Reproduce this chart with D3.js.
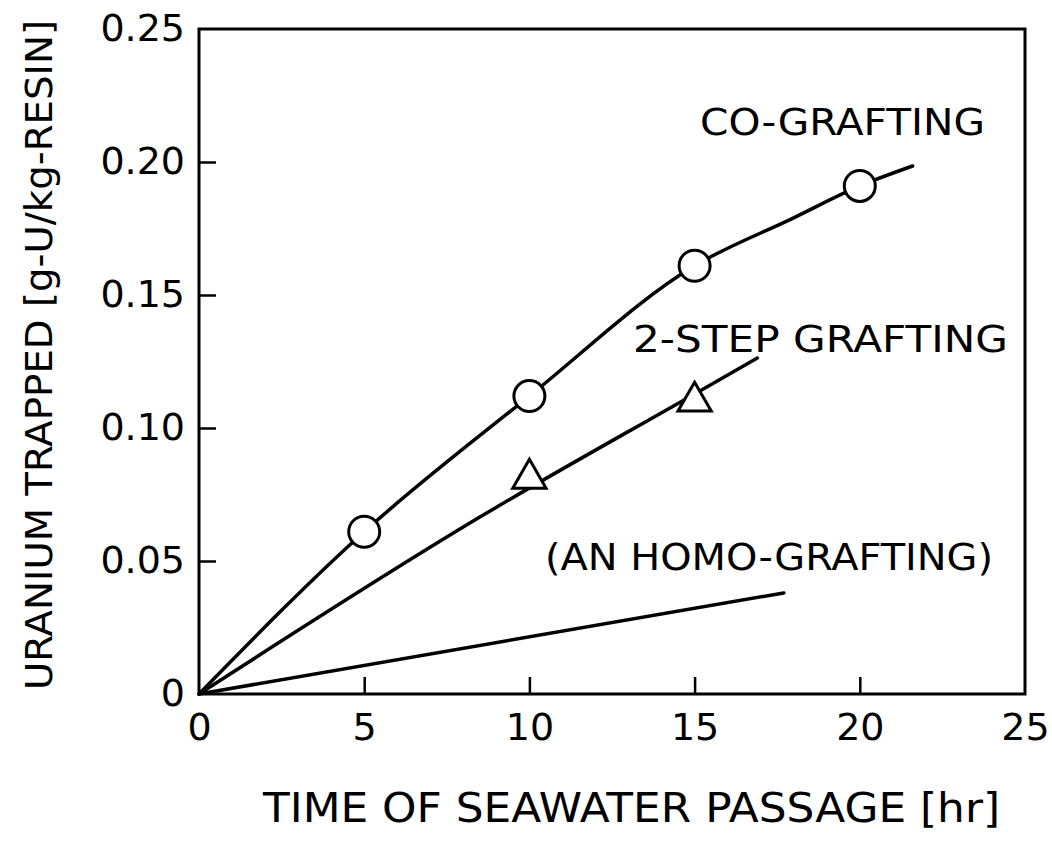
<!DOCTYPE html>
<html>
<head>
<meta charset="utf-8">
<script src="https://cdn.jsdelivr.net/npm/d3@7"></script>
<style>
  html, body { margin: 0; padding: 0; background: #fff; }
  svg { display: block; }
  text { font-family: "DejaVu Sans", sans-serif; fill: #000; }
</style>
</head>
<body>
<svg id="chart" width="1052" height="850"></svg>
<script>
// ---- data ----
const xTicks = [0, 5, 10, 15, 20, 25];
const yTicks = [0, 0.05, 0.10, 0.15, 0.20, 0.25];
const yTickLabels = ["0", "0.05", "0.10", "0.15", "0.20", "0.25"];

const coTime = [5, 10, 15, 20];
const coValue = [0.061, 0.112, 0.161, 0.191];
const coCurveTime = [0, 5, 10, 15, 18, 20, 21.6];
const coCurveValue = [0, 0.061, 0.112, 0.161, 0.179, 0.191, 0.1985];

const stepTime = [10, 15];
const stepValue = [0.081, 0.110];
const stepLineTime = [0, 8.5, 15, 16.9];
const stepLineValue = [0, 0.0665, 0.1128, 0.1263];

const homoLineTime = [0, 17.7];
const homoLineValue = [0, 0.038];

const xTitle = "TIME OF SEAWATER PASSAGE [hr]";
const yTitle = "URANIUM TRAPPED [g-U/kg-RESIN]";

// ---- layout ----
const svg = d3.select("#chart");
const x = d3.scaleLinear().domain([0, 25]).range([199, 1025]);
const y = d3.scaleLinear().domain([0, 0.25]).range([694, 29]);

const g = svg.append("g");

// frame
g.append("rect")
  .attr("x", x(0)).attr("y", y(0.25))
  .attr("width", x(25) - x(0)).attr("height", y(0) - y(0.25))
  .attr("fill", "none").attr("stroke", "#000").attr("stroke-width", 3);

// axes (inward ticks)
const xAxis = d3.axisBottom(x).tickValues(xTicks).tickSizeInner(-17).tickSizeOuter(0).tickPadding(22).tickFormat(d3.format("d"));
const gx = g.append("g").attr("transform", `translate(0,${y(0)})`).call(xAxis);
gx.select(".domain").remove();
gx.selectAll(".tick line").attr("stroke", "#000").attr("stroke-width", 2.5)
  .filter(d => d === 0 || d === 25).remove();
gx.selectAll(".tick text").attr("font-size", 38).attr("dy", "0.71em").attr("y", 19);

const yAxis = d3.axisLeft(y).tickValues(yTicks).tickSizeInner(-17).tickSizeOuter(0).tickPadding(14)
  .tickFormat((d, i) => yTickLabels[i]);
const gy = g.append("g").attr("transform", `translate(${x(0)},0)`).call(yAxis);
gy.select(".domain").remove();
gy.selectAll(".tick line").attr("stroke", "#000").attr("stroke-width", 2.5)
  .filter(d => d === 0 || d === 0.25).remove();
gy.selectAll(".tick text").attr("font-size", 38).attr("x", -14).attr("dy", "0.30em");

// lines
const zip = (a, b) => a.map((v, i) => [v, b[i]]);

g.append("path").datum(zip(coCurveTime, coCurveValue))
  .attr("d", d3.line().x(d => x(d[0])).y(d => y(d[1])).curve(d3.curveMonotoneX))
  .attr("fill", "none").attr("stroke", "#000").attr("stroke-width", 3.5).attr("stroke-linecap", "round");

g.append("path").datum(zip(stepLineTime, stepLineValue))
  .attr("d", d3.line().x(d => x(d[0])).y(d => y(d[1])).curve(d3.curveMonotoneX))
  .attr("fill", "none").attr("stroke", "#000").attr("stroke-width", 3.5).attr("stroke-linecap", "round");

g.append("path").datum(zip(homoLineTime, homoLineValue))
  .attr("d", d3.line().x(d => x(d[0])).y(d => y(d[1])))
  .attr("fill", "none").attr("stroke", "#000").attr("stroke-width", 3.5).attr("stroke-linecap", "round");

// markers
g.selectAll("circle.co").data(zip(coTime, coValue)).enter().append("circle")
  .attr("class", "co")
  .attr("cx", d => x(d[0])).attr("cy", d => y(d[1])).attr("r", 15.5)
  .attr("fill", "#fff").attr("stroke", "#000").attr("stroke-width", 3);

const tri = d3.symbol().type(d3.symbolTriangle).size(480);
g.selectAll("path.step").data(zip(stepTime, stepValue)).enter().append("path")
  .attr("class", "step")
  .attr("d", tri)
  .attr("transform", d => `translate(${x(d[0])},${y(d[1])})`)
  .attr("fill", "#fff").attr("stroke", "#000").attr("stroke-width", 3).attr("stroke-linejoin", "miter");

// series labels
const labels = [
  { t: "CO-GRAFTING", x0: 700, x1: 985, base: 135 },
  { t: "2-STEP GRAFTING", x0: 633, x1: 1008, base: 352 },
  { t: "(AN HOMO-GRAFTING)", x0: 545, x1: 993, base: 570 }
];
labels.forEach(l => {
  g.append("text").text(l.t).attr("x", l.x0).attr("y", l.base)
    .attr("font-size", 38).attr("textLength", l.x1 - l.x0).attr("lengthAdjust", "spacingAndGlyphs");
});

// axis titles
g.append("text").text(xTitle).attr("x", 263).attr("y", 822)
  .attr("font-size", 40).attr("textLength", 1000 - 263).attr("lengthAdjust", "spacingAndGlyphs");

g.append("text").text(yTitle)
  .attr("transform", "translate(52,690) rotate(-90)")
  .attr("x", 0).attr("y", 0)
  .attr("font-size", 37).attr("textLength", 690 - 20).attr("lengthAdjust", "spacingAndGlyphs");
</script>
</body>
</html>
